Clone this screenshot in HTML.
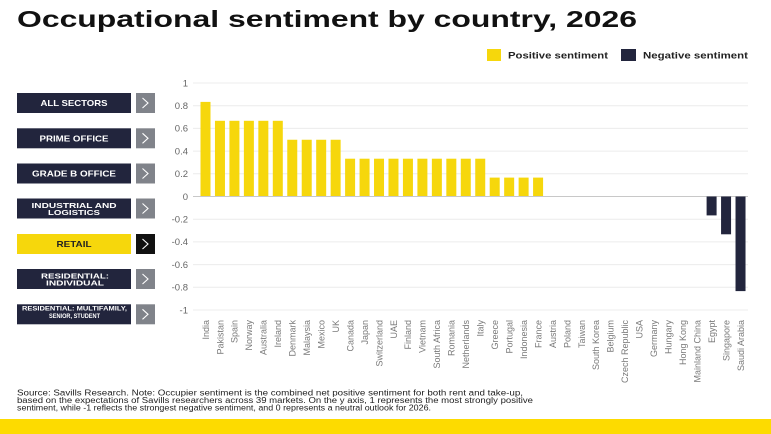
<!DOCTYPE html>
<html><head><meta charset="utf-8"><style>
html,body{margin:0;padding:0;background:#fff;}
svg{display:block;}
text{font-family:"Liberation Sans",sans-serif;}
</style></head><body>
<svg width="771" height="434" viewBox="0 0 771 434" xmlns="http://www.w3.org/2000/svg">
<rect width="771" height="434" fill="#fff"/>
<text x="17" y="27" font-size="23" font-weight="bold" fill="#111" textLength="620" lengthAdjust="spacingAndGlyphs">Occupational sentiment by country, 2026</text>

<!-- legend -->
<rect x="487" y="49" width="14" height="12" fill="#f6d70c"/>
<text x="508" y="58.5" font-size="9.5" font-weight="bold" fill="#222" textLength="100" lengthAdjust="spacingAndGlyphs">Positive sentiment</text>
<rect x="621" y="49" width="15" height="12" fill="#22253d"/>
<text x="643" y="58.5" font-size="9.5" font-weight="bold" fill="#222" textLength="105" lengthAdjust="spacingAndGlyphs">Negative sentiment</text>

<!-- gridlines -->
<g stroke="#ececec" stroke-width="1">
<line x1="193" x2="748" y1="83" y2="83"/>
<line x1="193" x2="748" y1="105.7" y2="105.7"/>
<line x1="193" x2="748" y1="128.4" y2="128.4"/>
<line x1="193" x2="748" y1="151.1" y2="151.1"/>
<line x1="193" x2="748" y1="173.8" y2="173.8"/>
<line x1="193" x2="748" y1="219.2" y2="219.2"/>
<line x1="193" x2="748" y1="241.9" y2="241.9"/>
<line x1="193" x2="748" y1="264.6" y2="264.6"/>
<line x1="193" x2="748" y1="287.3" y2="287.3"/>
<line x1="193" x2="748" y1="310" y2="310"/>
</g>

<!-- y labels -->
<g font-size="9.5" fill="#666" text-anchor="end">
<text x="188" y="86.3">1</text>
<text x="188" y="109">0.8</text>
<text x="188" y="131.7">0.6</text>
<text x="188" y="154.4">0.4</text>
<text x="188" y="177.1">0.2</text>
<text x="188" y="199.8">0</text>
<text x="188" y="222.5">-0.2</text>
<text x="188" y="245.2">-0.4</text>
<text x="188" y="267.9">-0.6</text>
<text x="188" y="290.6">-0.8</text>
<text x="188" y="313.3">-1</text>
</g>

<!-- bars -->
<g fill="#f6d70c">
<rect x="200.5" y="101.9" width="10" height="94.6"/>
<rect x="214.96" y="120.8" width="10" height="75.7"/>
<rect x="229.42" y="120.8" width="10" height="75.7"/>
<rect x="243.88" y="120.8" width="10" height="75.7"/>
<rect x="258.34" y="120.8" width="10" height="75.7"/>
<rect x="272.8" y="120.8" width="10" height="75.7"/>
<rect x="287.26" y="139.75" width="10" height="56.75"/>
<rect x="301.72" y="139.75" width="10" height="56.75"/>
<rect x="316.18" y="139.75" width="10" height="56.75"/>
<rect x="330.64" y="139.75" width="10" height="56.75"/>
<rect x="345.1" y="158.7" width="10" height="37.8"/>
<rect x="359.56" y="158.7" width="10" height="37.8"/>
<rect x="374.02" y="158.7" width="10" height="37.8"/>
<rect x="388.48" y="158.7" width="10" height="37.8"/>
<rect x="402.94" y="158.7" width="10" height="37.8"/>
<rect x="417.4" y="158.7" width="10" height="37.8"/>
<rect x="431.86" y="158.7" width="10" height="37.8"/>
<rect x="446.32" y="158.7" width="10" height="37.8"/>
<rect x="460.78" y="158.7" width="10" height="37.8"/>
<rect x="475.24" y="158.7" width="10" height="37.8"/>
<rect x="489.7" y="177.6" width="10" height="18.9"/>
<rect x="504.16" y="177.6" width="10" height="18.9"/>
<rect x="518.62" y="177.6" width="10" height="18.9"/>
<rect x="533.08" y="177.6" width="10" height="18.9"/>
</g>
<line x1="193" x2="748" y1="196.5" y2="196.5" stroke="#c8c8c8" stroke-width="1"/>
<g fill="#22253d">
<rect x="706.6" y="196.5" width="10" height="18.9"/>
<rect x="721.06" y="196.5" width="10" height="37.8"/>
<rect x="735.52" y="196.5" width="10" height="94.6"/>
</g>

<!-- x labels -->
<g font-size="9" fill="#7a7a7a" text-anchor="end">
<text transform="translate(208.8,320) rotate(-90)">India</text>
<text transform="translate(223.26,320) rotate(-90)">Pakistan</text>
<text transform="translate(237.72,320) rotate(-90)">Spain</text>
<text transform="translate(252.18,320) rotate(-90)">Norway</text>
<text transform="translate(266.64,320) rotate(-90)">Australia</text>
<text transform="translate(281.1,320) rotate(-90)">Ireland</text>
<text transform="translate(295.56,320) rotate(-90)">Denmark</text>
<text transform="translate(310.02,320) rotate(-90)">Malaysia</text>
<text transform="translate(324.48,320) rotate(-90)">Mexico</text>
<text transform="translate(338.94,320) rotate(-90)">UK</text>
<text transform="translate(353.4,320) rotate(-90)">Canada</text>
<text transform="translate(367.86,320) rotate(-90)">Japan</text>
<text transform="translate(382.32,320) rotate(-90)">Switzerland</text>
<text transform="translate(396.78,320) rotate(-90)">UAE</text>
<text transform="translate(411.24,320) rotate(-90)">Finland</text>
<text transform="translate(425.7,320) rotate(-90)">Vietnam</text>
<text transform="translate(440.16,320) rotate(-90)">South Africa</text>
<text transform="translate(454.62,320) rotate(-90)">Romania</text>
<text transform="translate(469.08,320) rotate(-90)">Netherlands</text>
<text transform="translate(483.54,320) rotate(-90)">Italy</text>
<text transform="translate(498,320) rotate(-90)">Greece</text>
<text transform="translate(512.46,320) rotate(-90)">Portugal</text>
<text transform="translate(526.92,320) rotate(-90)">Indonesia</text>
<text transform="translate(541.38,320) rotate(-90)">France</text>
<text transform="translate(555.84,320) rotate(-90)">Austria</text>
<text transform="translate(570.3,320) rotate(-90)">Poland</text>
<text transform="translate(584.76,320) rotate(-90)">Taiwan</text>
<text transform="translate(599.22,320) rotate(-90)">South Korea</text>
<text transform="translate(613.68,320) rotate(-90)">Belgium</text>
<text transform="translate(628.14,320) rotate(-90)">Czech Republic</text>
<text transform="translate(642.6,320) rotate(-90)">USA</text>
<text transform="translate(657.06,320) rotate(-90)">Germany</text>
<text transform="translate(671.52,320) rotate(-90)">Hungary</text>
<text transform="translate(685.98,320) rotate(-90)">Hong Kong</text>
<text transform="translate(700.44,320) rotate(-90)">Mainland China</text>
<text transform="translate(714.9,320) rotate(-90)">Egypt</text>
<text transform="translate(729.36,320) rotate(-90)">Singapore</text>
<text transform="translate(743.82,320) rotate(-90)">Saudi Arabia</text>
</g>

<!-- left buttons -->
<g>
<rect x="17" y="93" width="114" height="20" fill="#22253d"/>
<rect x="136" y="93" width="19" height="20" fill="#80838a"/>
<polyline points="142.5,98 148,103 142.5,108" fill="none" stroke="#fff" stroke-width="1.1"/>
<text x="74" y="106" font-size="8.3" font-weight="bold" fill="#fff" text-anchor="middle" textLength="67" lengthAdjust="spacingAndGlyphs">ALL SECTORS</text>

<rect x="17" y="128.3" width="114" height="20" fill="#22253d"/>
<rect x="136" y="128.3" width="19" height="20" fill="#80838a"/>
<polyline points="142.5,133.3 148,138.3 142.5,143.3" fill="none" stroke="#fff" stroke-width="1.1"/>
<text x="74" y="141.3" font-size="8.3" font-weight="bold" fill="#fff" text-anchor="middle" textLength="69" lengthAdjust="spacingAndGlyphs">PRIME OFFICE</text>

<rect x="17" y="163.5" width="114" height="20" fill="#22253d"/>
<rect x="136" y="163.5" width="19" height="20" fill="#80838a"/>
<polyline points="142.5,168.5 148,173.5 142.5,178.5" fill="none" stroke="#fff" stroke-width="1.1"/>
<text x="74" y="176.5" font-size="8.3" font-weight="bold" fill="#fff" text-anchor="middle" textLength="84" lengthAdjust="spacingAndGlyphs">GRADE B OFFICE</text>

<rect x="17" y="198.5" width="114" height="20" fill="#22253d"/>
<rect x="136" y="198.5" width="19" height="20" fill="#80838a"/>
<polyline points="142.5,203.5 148,208.5 142.5,213.5" fill="none" stroke="#fff" stroke-width="1.1"/>
<text x="74" y="207.8" font-size="7.6" font-weight="bold" fill="#fff" text-anchor="middle" textLength="85" lengthAdjust="spacingAndGlyphs">INDUSTRIAL AND</text>
<text x="74" y="215" font-size="7.6" font-weight="bold" fill="#fff" text-anchor="middle" textLength="52" lengthAdjust="spacingAndGlyphs">LOGISTICS</text>

<rect x="17" y="234" width="114" height="20" fill="#f6d70c"/>
<rect x="136" y="234" width="19" height="20" fill="#111"/>
<polyline points="142.5,239 148,244 142.5,249" fill="none" stroke="#fff" stroke-width="1.1"/>
<text x="74" y="247" font-size="8.3" font-weight="bold" fill="#222" text-anchor="middle" textLength="35" lengthAdjust="spacingAndGlyphs">RETAIL</text>

<rect x="17" y="269" width="114" height="20" fill="#22253d"/>
<rect x="136" y="269" width="19" height="20" fill="#80838a"/>
<polyline points="142.5,274 148,279 142.5,284" fill="none" stroke="#fff" stroke-width="1.1"/>
<text x="75" y="278.3" font-size="7.6" font-weight="bold" fill="#fff" text-anchor="middle" textLength="68" lengthAdjust="spacingAndGlyphs">RESIDENTIAL:</text>
<text x="75" y="285.6" font-size="7.6" font-weight="bold" fill="#fff" text-anchor="middle" textLength="58" lengthAdjust="spacingAndGlyphs">INDIVIDUAL</text>

<rect x="17" y="304.3" width="114" height="20" fill="#22253d"/>
<rect x="136" y="304.3" width="19" height="20" fill="#80838a"/>
<polyline points="142.5,309.3 148,314.3 142.5,319.3" fill="none" stroke="#fff" stroke-width="1.1"/>
<text x="74.5" y="310.5" font-size="6" font-weight="bold" fill="#fff" text-anchor="middle" textLength="105" lengthAdjust="spacingAndGlyphs">RESIDENTIAL: MULTIFAMILY,</text>
<text x="74.5" y="317.9" font-size="6" font-weight="bold" fill="#fff" text-anchor="middle" textLength="51" lengthAdjust="spacingAndGlyphs">SENIOR, STUDENT</text>
</g>

<!-- note -->
<g font-size="8" fill="#222">
<text x="17" y="395.5" textLength="506" lengthAdjust="spacingAndGlyphs">Source: Savills Research. Note: Occupier sentiment is the combined net positive sentiment for both rent and take-up,</text>
<text x="17" y="403" textLength="516" lengthAdjust="spacingAndGlyphs">based on the expectations of Savills researchers across 39 markets. On the y axis, 1 represents the most strongly positive</text>
<text x="17" y="410.5" textLength="414" lengthAdjust="spacingAndGlyphs">sentiment, while -1 reflects the strongest negative sentiment, and 0 represents a neutral outlook for 2026.</text>
</g>

<rect x="0" y="419" width="771" height="15" fill="#fddb00"/>
</svg>
</body></html>
